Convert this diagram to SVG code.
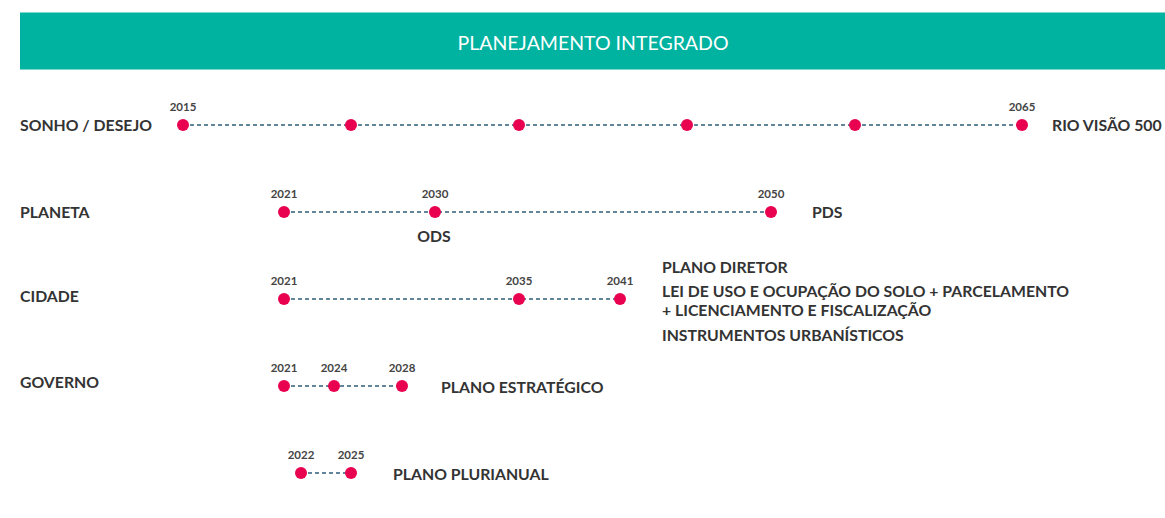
<svg xmlns="http://www.w3.org/2000/svg" width="1165" height="518" viewBox="0 0 1165 518">
<style>
.t{font-family:Lato,"Open Sans",sans-serif;font-weight:700;fill:#333}
.lab{font-size:15.8px}
.yr{font-size:11.5px;text-anchor:middle;fill:#444}
.dot{fill:#E8024F}
.ln{stroke:#2F5E7C;stroke-width:1.3;stroke-dasharray:4 3;fill:none}
</style>
<rect width="1165" height="518" fill="#fff"/>
<g id="header">
<rect x="20" y="12" width="1145" height="58" fill="#00B2A0"/>
<line x1="20" y1="12.5" x2="1165" y2="12.5" stroke="#7fd8cf" stroke-width="1"/>
<line x1="20" y1="69.5" x2="1165" y2="69.5" stroke="#7fd8cf" stroke-width="1"/>
<text x="593" y="50" font-family="Lato,sans-serif" font-size="19.5" fill="#fff" text-anchor="middle">PLANEJAMENTO INTEGRADO</text>
</g>
<g id="connectors">
<line class="ln" x1="183" y1="125" x2="1022" y2="125"/>
<line class="ln" x1="284" y1="212" x2="771" y2="212" stroke="#7E9FB4"/>
<line class="ln" x1="284" y1="299" x2="620" y2="299"/>
<line class="ln" x1="284" y1="386" x2="402" y2="386"/>
<line class="ln" x1="301" y1="473" x2="351" y2="473"/>
</g>
<g id="row-sonho">
<text class="t lab" x="20" y="131">SONHO / DESEJO</text>
<circle class="dot" cx="183" cy="125" r="6"/>
<circle class="dot" cx="351" cy="125" r="6"/>
<circle class="dot" cx="519" cy="125" r="6"/>
<circle class="dot" cx="687" cy="125" r="6"/>
<circle class="dot" cx="855" cy="125" r="6"/>
<circle class="dot" cx="1022" cy="125" r="6"/>
<text class="t yr" x="183" y="111">2015</text>
<text class="t yr" x="1022" y="111">2065</text>
<text class="t lab" x="1052" y="131">RIO VISÃO 500</text>
</g>
<g id="row-planeta">
<text class="t lab" x="20" y="218">PLANETA</text>
<circle class="dot" cx="284" cy="212" r="6"/>
<circle class="dot" cx="435" cy="212" r="6"/>
<circle class="dot" cx="771" cy="212" r="6"/>
<text class="t yr" x="284" y="198">2021</text>
<text class="t yr" x="435" y="198">2030</text>
<text class="t yr" x="771" y="198">2050</text>
<text class="t lab" x="434" y="242" text-anchor="middle">ODS</text>
<text class="t lab" x="812" y="218">PDS</text>
</g>
<g id="row-cidade">
<text class="t lab" x="20" y="302">CIDADE</text>
<circle class="dot" cx="284" cy="299" r="6"/>
<circle class="dot" cx="519" cy="299" r="6"/>
<circle class="dot" cx="620" cy="299" r="6"/>
<text class="t yr" x="284" y="285">2021</text>
<text class="t yr" x="519" y="285">2035</text>
<text class="t yr" x="620" y="285">2041</text>
<text class="t lab" x="662" y="273">PLANO DIRETOR</text>
<text class="t lab" x="662" y="297">LEI DE USO E OCUPAÇÃO DO SOLO + PARCELAMENTO</text>
<text class="t lab" x="662" y="316">+ LICENCIAMENTO E FISCALIZAÇÃO</text>
<text class="t lab" x="662" y="341">INSTRUMENTOS URBANÍSTICOS</text>
</g>
<g id="row-governo">
<text class="t lab" x="20" y="388">GOVERNO</text>
<circle class="dot" cx="284" cy="386" r="6"/>
<circle class="dot" cx="334" cy="386" r="6"/>
<circle class="dot" cx="402" cy="386" r="6"/>
<text class="t yr" x="284" y="372">2021</text>
<text class="t yr" x="334" y="372">2024</text>
<text class="t yr" x="402" y="372">2028</text>
<text class="t lab" x="441" y="393">PLANO ESTRATÉGICO</text>
</g>
<g id="row-plurianual">
<circle class="dot" cx="301" cy="473" r="6"/>
<circle class="dot" cx="351" cy="473" r="6"/>
<text class="t yr" x="301" y="459">2022</text>
<text class="t yr" x="351" y="459">2025</text>
<text class="t lab" x="393" y="480">PLANO PLURIANUAL</text>
</g>
</svg>
